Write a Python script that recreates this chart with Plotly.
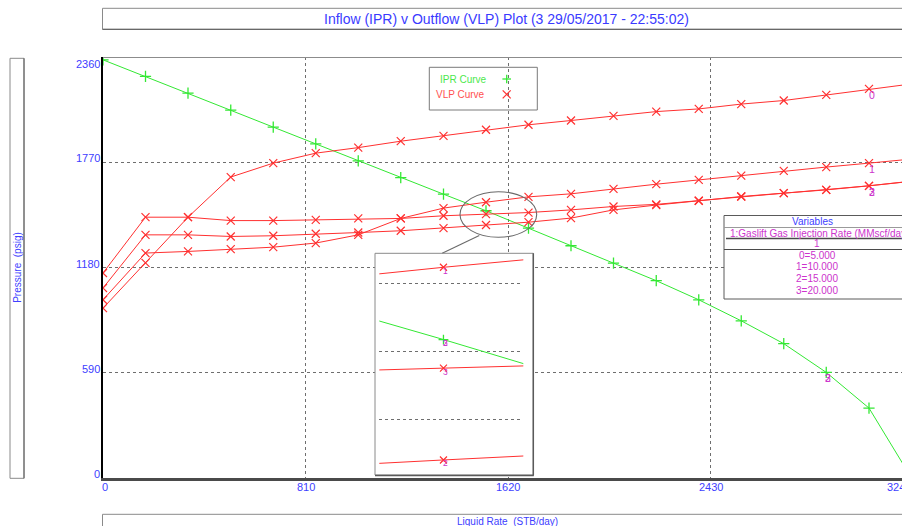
import plotly.graph_objects as go

# ---------------------------------------------------------------------------
# Data: liquid rate grid (STB/day) shared by the IPR and the VLP tables
# ---------------------------------------------------------------------------
liquid_rate = [0, 170, 340, 511, 681, 851, 1021, 1191, 1362, 1532,
               1702, 1872, 2042, 2213, 2383, 2553, 2723, 2893, 3064, 3234]

# Inflow performance (psig)
ipr_pressure = [2344, 2251, 2157, 2062, 1967, 1873, 1778, 1684, 1591, 1498,
                1401, 1302, 1204, 1106, 999, 881, 753, 592, 392, 0]

# Outflow (VLP) curves, one per gaslift injection rate (psig)
vlp_0 = [952, 1206, 1462, 1687, 1765, 1821, 1852, 1888, 1918, 1952,
         1980, 2004, 2030, 2054, 2069, 2096, 2116, 2148, 2181, 2209]
vlp_1 = [999, 1261, 1270, 1283, 1294, 1317, 1363, 1455, 1513, 1546,
         1576, 1593, 1621, 1647, 1671, 1695, 1722, 1743, 1765, 1788]
vlp_2 = [1065, 1363, 1363, 1354, 1358, 1369, 1376, 1386, 1401, 1418,
         1434, 1457, 1503, 1530, 1554, 1578, 1597, 1615, 1638, 1664]
vlp_3 = [1149, 1462, 1462, 1443, 1443, 1447, 1455, 1455, 1470, 1479,
         1488, 1503, 1522, 1534, 1554, 1578, 1597, 1615, 1638, 1663]

vlp_labels = ["0", "1", "2", "3"]
gas_injection_rates = ["5.000", "10.000", "15.000", "20.000"]

x_ticks = [0, 810, 1620, 2430, 3240]
y_ticks = [0, 590, 1180, 1770, 2360]

title_text = "Inflow (IPR) v Outflow (VLP) Plot (3 29/05/2017 - 22:55:02)"
x_title = "Liquid Rate\u00a0 (STB/day)"
y_title = "Pressure\u00a0 (psig)"
variables_header = "1:Gaslift Gas Injection Rate (MMscf/day)"

# ---------------------------------------------------------------------------
# Page geometry and styling
# ---------------------------------------------------------------------------
W, H = 902, 526
ML, MT, MB = 103, 57, 48
PW = W - ML
PH = H - MT - MB
X_MAX = 3196

BLUE = "#4040ff"
MAGENTA = "#cc33cc"
RED = "#ff3030"
GREEN = "#33e833"
GRID = "#6e6e6e"
BOX = "#8a8a8a"
FONT = "Liberation Sans, Arial, sans-serif"


def px(x):
    """Pixel column -> paper x."""
    return (x - ML) / PW


def py(y):
    """Pixel row -> paper y."""
    return (H - MB - y) / PH


fig = go.Figure()

vlp_series = [vlp_0, vlp_1, vlp_2, vlp_3]


def add_curves(xa, ya, msize):
    fig.add_trace(go.Scatter(
        x=liquid_rate, y=ipr_pressure, mode="lines+markers",
        line=dict(color=GREEN, width=1),
        marker=dict(symbol="cross-thin", size=msize,
                    line=dict(color=GREEN, width=1.3)),
        xaxis=xa, yaxis=ya, showlegend=False, hoverinfo="skip"))
    for series in vlp_series:
        fig.add_trace(go.Scatter(
            x=liquid_rate, y=series, mode="lines+markers",
            line=dict(color=RED, width=1),
            marker=dict(symbol="x-thin", size=msize,
                        line=dict(color=RED, width=1.2)),
            xaxis=xa, yaxis=ya, showlegend=False, hoverinfo="skip"))


# main plot
add_curves("x", "y", 8)

# blank subplot that masks the main plot behind the magnifier box
fig.add_trace(go.Scatter(x=[], y=[], xaxis="x2", yaxis="y2",
                         showlegend=False, hoverinfo="skip"))

# magnified view of the operating-point region
add_curves("x3", "y3", 7)

# --- axes -------------------------------------------------------------------
fig.update_layout(
    width=W, height=H, autosize=False,
    margin=dict(l=ML, r=0, t=MT, b=MB, pad=0),
    paper_bgcolor="white", plot_bgcolor="white",
    font=dict(family=FONT, size=10, color=BLUE),
    showlegend=False,
    xaxis=dict(range=[0, X_MAX], tickmode="array", tickvals=x_ticks[:-1],
               showticklabels=False,
               showgrid=True, gridcolor=GRID, griddash="dot", gridwidth=1,
               zeroline=False, showline=True, linecolor="#4a4a4a",
               linewidth=3, ticks="", fixedrange=True),
    yaxis=dict(range=[0, 2360], tickmode="array", tickvals=y_ticks,
               showticklabels=False,
               showgrid=True, gridcolor=GRID, griddash="dot", gridwidth=1,
               zeroline=False, showline=True, linecolor="black",
               linewidth=2, ticks="", fixedrange=True),
    xaxis2=dict(domain=[px(375), px(533.3)], range=[0, 1], anchor="y2",
                visible=False, fixedrange=True),
    yaxis2=dict(domain=[py(475), py(253.3)], range=[0, 1], anchor="x2",
                visible=False, fixedrange=True),
    xaxis3=dict(domain=[px(379.3), px(523.3)], range=[1509.5, 1560],
                anchor="y3", showgrid=False, zeroline=False,
                showticklabels=False, showline=False, ticks="",
                fixedrange=True),
    yaxis3=dict(domain=[py(472), py(256)], range=[1410, 1553.5],
                anchor="x3", tickmode="array", tickvals=[1445, 1490, 1535],
                showgrid=True, gridcolor=GRID, griddash="dot", gridwidth=1,
                zeroline=False, showticklabels=False, showline=False,
                ticks="", fixedrange=True),
)

# --- shapes -----------------------------------------------------------------
shapes = []


def rect(x0, y0, x1, y1, line=BOX, fill="rgba(0,0,0,0)", width=1,
         layer="above"):
    shapes.append(dict(type="rect", xref="paper", yref="paper",
                       x0=px(x0), x1=px(x1), y0=py(y1), y1=py(y0),
                       line=dict(color=line, width=width),
                       fillcolor=fill, layer=layer))


def seg(x0, y0, x1, y1, color=BOX, width=1, dash="solid"):
    shapes.append(dict(type="line", xref="paper", yref="paper",
                       x0=px(x0), x1=px(x1), y0=py(y0), y1=py(y1),
                       line=dict(color=color, width=width, dash=dash),
                       layer="above"))


# white mask under the magnifier (drawn in the blank subplot)
shapes.append(dict(type="rect", xref="x2", yref="y2", x0=0, x1=1, y0=0,
                   y1=1, fillcolor="white", line=dict(width=0),
                   layer="below"))

# plot frame top edge
seg(ML, 57.5, 915, 57.5, color="#8c8c8c")

# title box
rect(102.5, 8.3, 915, 29.3, line=BOX)
seg(102.5, 29.3, 915, 29.3, color="#5a5a5a")
# y-axis title box
rect(10, 58.3, 24, 478.3, line=BOX)
seg(24, 58.3, 24, 478.3, color="#5a5a5a")
# x-axis title box
rect(102.5, 514.3, 915, 535, line=BOX)

# legend box with symbols
rect(429.3, 67.3, 537.3, 110, line="#7a7a7a")
seg(502.4, 79, 511, 79, color=GREEN, width=1.3)
seg(506.7, 74.7, 506.7, 83.3, color=GREEN, width=1.3)
seg(502.7, 90.3, 510.7, 98.3, color=RED, width=1.2)
seg(502.7, 98.3, 510.7, 90.3, color=RED, width=1.2)

# variables table
rect(724, 215.5, 915, 299, line="#5a5a5a", fill="white")
seg(724, 227.5, 915, 227.5, color="#9a9a9a")
seg(726, 238.5, 915, 238.5, color="#4a4a4a", width=1.3)
seg(724, 249.5, 915, 249.5, color="#4a4a4a")

# magnifier: ellipse, leader line and box
shapes.append(dict(type="circle", xref="paper", yref="paper",
                   x0=px(460), x1=px(536.7), y0=py(237.3), y1=py(191.7),
                   line=dict(color="#6a6a6a", width=1.1), layer="above"))
seg(479.3, 235.5, 442.2, 253.3, color="#6a6a6a", width=1.1)
rect(375, 253.3, 533.3, 475, line="#8a8a8a")
seg(533.3, 253.3, 533.3, 475.5, color="#5a5a5a", width=1.5)
seg(375, 475.5, 533.8, 475.5, color="#5a5a5a", width=1.5)

fig.update_layout(shapes=shapes)

# --- text -------------------------------------------------------------------
ann = []


def text(x, y, s, color=BLUE, size=10, angle=0, xanchor="center"):
    ann.append(dict(xref="paper", yref="paper", x=px(x), y=py(y), text=s,
                    showarrow=False, xanchor=xanchor, yanchor="middle",
                    textangle=angle,
                    font=dict(family=FONT, size=size, color=color)))


text(506, 18.6, title_text, color="#3a3aff", size=14)
text(16.8, 267, y_title, size=10, angle=-90)
text(507, 521, x_title, size=10)

# axis tick labels; the end labels are pulled inside the plot edges
TICK_SIZE = 11
for v in y_ticks:
    shift = -7 if v == y_ticks[-1] else 4
    ann.append(dict(xref="paper", yref="y", x=px(101.5), y=v, yshift=shift,
                    text=str(v), showarrow=False, xanchor="right",
                    yanchor="middle",
                    font=dict(family=FONT, size=TICK_SIZE, color=BLUE)))
for v in x_ticks:
    xpos = min(v, X_MAX - 12)
    shift = 2 if v == 0 else 0
    ann.append(dict(xref="paper", yref="paper", x=xpos / X_MAX, y=py(487),
                    xshift=shift, text=str(v), showarrow=False,
                    xanchor="center", yanchor="middle",
                    font=dict(family=FONT, size=TICK_SIZE, color=BLUE)))

text(463.3, 79.3, "IPR Curve", color="#4ce84c", size=10)
text(460.7, 95, "VLP Curve", color="#ff5050", size=10)

text(812, 221.7, "Variables", color=BLUE, size=10)
text(728, 233.3, variables_header, color=MAGENTA, size=10, xanchor="left")
text(817, 243.7, "1", color=MAGENTA, size=10)
for i, (lab, rate) in enumerate(zip(vlp_labels, gas_injection_rates)):
    text(817, 255 + i * 11.7, f"{lab}={rate}", color=MAGENTA, size=10)


def point_label(xa, ya, xv, yv, s, size, dx, dy):
    ann.append(dict(xref=xa, yref=ya, x=xv, y=yv, text=s, showarrow=False,
                    xanchor="center", yanchor="middle", xshift=dx,
                    yshift=-dy,
                    font=dict(family=FONT, size=size, color=MAGENTA)))


# curve numbers near the right-hand end of each VLP curve
k_end = 18
for lab, series in zip(vlp_labels, vlp_series):
    point_label("x", "y", liquid_rate[k_end], series[k_end], lab, 10.5,
                2.5, 6)
# curve numbers on the IPR point beyond the last intersection
for lab in ["2", "3"]:
    point_label("x", "y", liquid_rate[17], ipr_pressure[17], lab, 10.5,
                1.6, 5.6)

# curve numbers inside the magnified view
k_mid = 9
for lab, series in zip(vlp_labels[1:], vlp_series[1:]):
    point_label("x3", "y3", liquid_rate[k_mid], series[k_mid], lab, 8.5,
                2, 3.5)
for lab in ["2", "3"]:
    point_label("x3", "y3", liquid_rate[k_mid], ipr_pressure[k_mid], lab,
                8.5, 2, 3.5)

fig.update_layout(annotations=ann)

fig.write_html("out.html", config={"displayModeBar": False})
